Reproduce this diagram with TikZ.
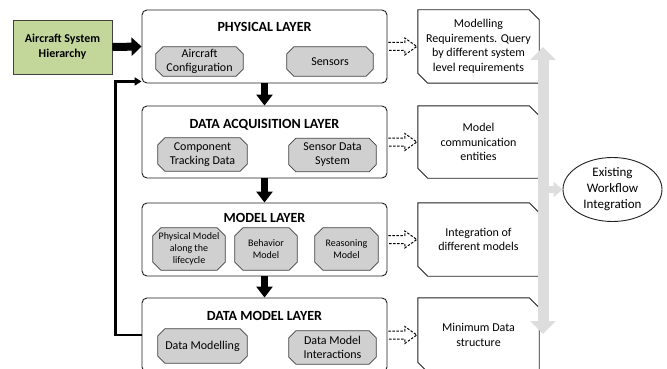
\documentclass[tikz,border=0pt]{standalone}
\usepackage{fontspec}
\setmainfont{Carlito}
\usetikzlibrary{arrows.meta,calc,shapes.geometric,backgrounds}
\definecolor{greenfill}{HTML}{C4D79B}
\definecolor{octfill}{HTML}{D0D0D0}
\definecolor{grayarrow}{HTML}{DDDDDD}
\definecolor{edgegray}{HTML}{404040}
\definecolor{edgeblack}{HTML}{202020}

\tikzset{
  layer/.style={draw=edgeblack, line width=0.9pt, rounded corners=5pt, inner sep=0pt},
  head/.style={font=\fontsize{14}{16}\selectfont\bfseries, inner sep=0pt},
  octtext/.style={inner sep=0pt, align=center, font=\fontsize{12}{14}\selectfont},
  octsmall/.style={font=\fontsize{10}{12}\selectfont},
  octline/.style={draw=edgegray, fill=octfill, line width=0.8pt},
  rtext/.style={inner sep=0pt, align=center, font=\fontsize{12}{14.5}\selectfont},
  rline/.style={draw=edgeblack, line width=0.9pt},
  blockarrow/.style={line width=7pt, -{Triangle[width=16pt,length=11pt]}},
  feedback/.style={line width=2.4pt, -{Triangle[width=8pt,length=7pt]}},
  dasharrow/.style={draw=black, line width=1pt, dash pattern=on 2.5pt off 1.5pt},
  grayshaft/.style={draw=grayarrow, line width=11pt, {Triangle[width=25pt,length=13pt]}-{Triangle[width=25pt,length=13pt]}},
  graybranch/.style={draw=grayarrow, line width=7pt, -{Triangle[width=15pt,length=9pt]}},
}

% name, cx, cy, w, h, chamfer, extra style, text
\newcommand\octbox[8]{%
  \node[octtext, #7, minimum width=#4pt, minimum height=#5pt] (#1) at (#2,#3) {#8};
  \begin{scope}[on background layer]
  \draw[octline] ($(#1.north west)+(#6pt,0)$) -- ($(#1.north east)+(-#6pt,0)$) -- ($(#1.north east)+(0,-#6pt)$) -- ($(#1.south east)+(0,#6pt)$) -- ($(#1.south east)+(-#6pt,0)$) -- ($(#1.south west)+(#6pt,0)$) -- ($(#1.south west)+(0,#6pt)$) -- ($(#1.north west)+(0,-#6pt)$) -- cycle;
  \end{scope}}

% name, cx, cy, w, h, text
\newcommand\snipbox[6]{%
  \node[rtext, minimum width=#4pt, minimum height=#5pt] (#1) at (#2,#3) {#6};
  \draw[rline] (#1.north west) -- ($(#1.north east)+(-10pt,0)$) -- ($(#1.north east)+(0,-10pt)$) -- (#1.south east) -- ($(#1.south west)+(10pt,0)$) -- ($(#1.south west)+(0,10pt)$) -- cycle;}

% dashed outline arrow from layer to right box
\newcommand\dasharr[2]{%
  \draw[dasharrow] ($(#1.east)+(1pt,4pt)$) -- ($(#2.west)+(-13pt,4pt)$) -- ($(#2.west)+(-13pt,8.5pt)$) -- ($(#2.west)+(-1pt,0)$) -- ($(#2.west)+(-13pt,-8.5pt)$) -- ($(#2.west)+(-13pt,-4pt)$) -- ($(#1.east)+(1pt,-4pt)$);}

\begin{document}
\begin{tikzpicture}[x=1pt,y=-1pt]
\useasboundingbox (0,0) rectangle (667,369);

% green source box
\node[draw=edgegray, fill=greenfill, line width=0.9pt, minimum width=99pt, minimum height=54pt, inner sep=0pt, align=center, font=\fontsize{12}{15}\selectfont\bfseries] (ash) at (62.5,47) {Aircraft System\\Hierarchy};

% layer boxes
\node[layer, minimum width=245pt, minimum height=73pt] (L1) at (264.5,46.5) {};
\node[layer, minimum width=245pt, minimum height=72pt] (L2) at (264.5,142) {};
\node[layer, minimum width=245pt, minimum height=73pt] (L3) at (264.5,239.5) {};
\node[layer, minimum width=245pt, minimum height=74pt] (L4) at (264.5,335) {};

\node[head] (h1) at (264.5,27) {PHYSICAL LAYER};
\node[head] (h2) at (264.5,124.5) {DATA ACQUISITION LAYER};
\node[head] (h3) at (264.5,218) {MODEL LAYER};
\node[head] (h4) at (264.5,315.5) {DATA MODEL LAYER};

% inner octagons
\octbox{ac}{199.5}{61.5}{87}{29}{7}{}{Aircraft\\Configuration}
\octbox{sen}{330}{61.5}{86}{29}{7}{}{Sensors}
\octbox{ctd}{202.5}{154.5}{89}{33}{7}{}{Component\\Tracking Data}
\octbox{sds}{332.5}{155}{87}{33}{7}{}{Sensor Data\\System}
\octbox{pm}{189}{249}{72}{42}{8}{octsmall}{Physical Model\\along the\\lifecycle}
\octbox{bm}{266}{249}{62}{42}{8}{octsmall}{Behavior\\Model}
\octbox{rm}{346.5}{249}{63}{42}{8}{octsmall}{Reasoning\\Model}
\octbox{dm}{202.5}{346}{89}{34}{7}{}{Data Modelling}
\octbox{dmi}{332.5}{347.5}{87}{33}{7}{}{Data Model\\Interactions}

% right snipped boxes
\snipbox{R1}{478.5}{46.5}{121}{73}{Modelling\\Requirements. Query\\by different system\\level requirements}
\snipbox{R2}{478.5}{142}{121}{72}{Model\\communication\\entities}
\snipbox{R3}{478.5}{239.5}{121}{73}{Integration of\\different models}
\snipbox{R4}{478.5}{335}{121}{74}{Minimum Data\\structure}

% dashed outline arrows
\dasharr{L1}{R1}
\dasharr{L2}{R2}
\dasharr{L3}{R3}
\dasharr{L4}{R4}

% block arrows
\draw[line width=8pt, -{Triangle[width=18pt,length=10pt]}] (ash.east) -- (L1.west);
\draw[blockarrow] (L1.south) -- (L2.north);
\draw[blockarrow] (L2.south) -- (L3.north);
\draw[blockarrow] (L3.south) -- (L4.north);

% feedback line
\draw[feedback] (L4.west) -- ++(-26pt,0) |- ($(L1.south west)+(0,2pt)$);

% ellipse and gray arrows
\node[draw=edgeblack, line width=0.9pt, ellipse, minimum width=99pt, minimum height=64pt, inner sep=0pt, align=center, font=\fontsize{13}{16}\selectfont] (ell) at (612.5,189.5) {Existing\\Workflow\\Integration};
\coordinate (gtop) at (543,47);
\coordinate (gbot) at (543,334);
\coordinate (gmid) at (543,189.5);
\draw[grayshaft] (gtop) -- (gbot);
\draw[graybranch] (gmid) -- (ell.west);
\end{tikzpicture}
\end{document}
